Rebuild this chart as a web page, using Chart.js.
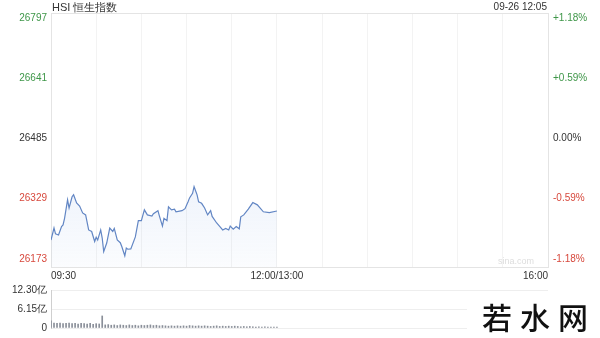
<!DOCTYPE html>
<html lang="zh">
<head>
<meta charset="UTF-8">
<title>HSI 恒生指数</title>
<style>
  body { margin: 0; width: 600px; height: 338px; background: #fff; position: relative; overflow: hidden; font-family: "Liberation Sans", Arial, sans-serif; }
  #main { position: absolute; left: 0; top: 0; }
  #vol { position: absolute; left: 0; top: 280px; }
  .title { position: absolute; left: 52px; top: 0; font-size: 11px; line-height: 14px; color: #333; }
  .stamp { position: absolute; right: 53px; top: 0; font-size: 10px; line-height: 14px; color: #333; }
  .src { position: absolute; left: 498px; top: 256px; font-size: 9px; color: #ddd; }
  .logo { position: absolute; left: 467px; top: 298px; width: 133px; height: 40px; background: #fff;
          font-family: "Noto Sans CJK SC", sans-serif; font-weight: 500; font-size: 30px; line-height: 36px;
          letter-spacing: 8px; padding-left: 15px; box-sizing: border-box; color: #111; white-space: nowrap; }
</style>
</head>
<body>
<canvas id="main" width="600" height="282"></canvas>
<canvas id="vol" width="600" height="58"></canvas>
<div class="title">HSI 恒生指数</div>
<div class="stamp">09-26 12:05</div>
<div class="src">sina.com</div>
<div class="logo">若水网</div>

<script src="https://cdn.jsdelivr.net/npm/chart.js@4.4.0/dist/chart.umd.min.js"></script>
<script>
// minutes since 09:30 (lunch break removed: 150 = 12:00/13:00, 330 = 16:00)
const priceMinutes = [0, 2, 3, 5, 7, 8, 9, 11, 12, 14, 15, 17, 19, 21, 23, 25, 27, 29, 30, 31,
  33, 34, 35, 37, 39, 41, 42, 44, 46, 47, 49, 50, 51, 53, 56, 58, 60, 62, 64, 67,
  68, 71, 72, 74, 75, 77, 78, 80, 82, 83, 87, 89, 91, 92, 94, 95, 97, 98, 100, 102,
  104, 106, 107, 110, 112, 114, 116, 118, 119, 121, 123, 125, 126, 128, 131, 134, 137, 141, 145, 150];
const priceValues = [26222, 26253, 26238, 26235, 26257, 26261, 26278, 26326, 26305, 26334, 26339, 26318, 26310, 26292, 26287, 26248, 26244, 26218, 26229, 26222,
  26248, 26227, 26192, 26214, 26253, 26244, 26252, 26222, 26215, 26205, 26181, 26201, 26198, 26199, 26230, 26272, 26272, 26300, 26287, 26284,
  26290, 26298, 26284, 26258, 26278, 26272, 26308, 26300, 26302, 26295, 26298, 26303, 26321, 26331, 26343, 26360, 26339, 26321, 26317, 26305,
  26287, 26298, 26283, 26266, 26257, 26248, 26252, 26248, 26258, 26250, 26257, 26251, 26282, 26287, 26302, 26319, 26313, 26295, 26293, 26297];

// volume in 亿, one bar every 2 minutes
const volMinutes = [0, 2, 4, 6, 8, 10, 12, 14, 16, 18, 20, 22, 24, 26, 28, 30, 32, 34, 36, 38,
  40, 42, 44, 46, 48, 50, 52, 54, 56, 58, 60, 62, 64, 66, 68, 70, 72, 74, 76, 78,
  80, 82, 84, 86, 88, 90, 92, 94, 96, 98, 100, 102, 104, 106, 108, 110, 112, 114, 116, 118,
  120, 122, 124, 126, 128, 130, 132, 134, 136, 138, 140, 142, 144, 146, 148, 150];
const volValues = [2.3, 1.6, 1.5, 1.6, 1.4, 1.5, 1.6, 1.4, 1.5, 1.3, 1.5, 1.4, 1.3, 1.5, 1.2, 1.4, 1.3, 3.9, 1.0, 1.1,
  0.9, 1.0, 0.8, 1.0, 0.9, 0.8, 1.0, 0.8, 0.9, 0.7, 0.9, 0.8, 0.9, 1.0, 0.8, 0.9, 0.7, 0.8, 0.7, 0.6,
  0.7, 0.6, 0.7, 0.6, 0.7, 0.6, 0.8, 0.7, 0.6, 0.7, 0.6, 0.7, 0.6, 0.5, 0.6, 0.7, 0.5, 0.6, 0.5, 0.6,
  0.5, 0.6, 0.5, 0.4, 0.5, 0.4, 0.5, 0.4, 0.3, 0.4, 0.3, 0.4, 0.3, 0.3, 0.3, 0.3];

const preClose = 26485;
const priceTicks = [26173, 26329, 26485, 26641, 26797];
const pctLabels = ['-1.18%', '-0.59%', '0.00%', '+0.59%', '+1.18%'];
const timeTicks = [0, 30, 60, 90, 120, 150, 180, 210, 240, 270, 300, 330];
const timeLabels = { 0: '09:30', 150: '12:00/13:00', 330: '16:00' };
const volTicks = [0, 6.15, 12.3];
const volLabels = ['0', '6.15亿', '12.30亿'];

Chart.defaults.font.family = '"Liberation Sans", Arial, sans-serif';
Chart.defaults.font.size = 10;
Chart.defaults.animation = false;

const upColor = 'rgb(62,150,72)';
const downColor = 'rgb(215,72,60)';
function tickColor(ctx) {
  const v = ctx.tick.value;
  if (v > preClose) return upColor;
  if (v < preClose) return downColor;
  return '#333';
}

// thin frame round the plot area
const frame = {
  id: 'frame',
  beforeDatasetsDraw(chart) {
    const a = chart.chartArea, c = chart.ctx;
    c.save();
    c.strokeStyle = '#e4e4e4';
    c.lineWidth = 1;
    c.strokeRect(a.left + 0.5, a.top + 0.5, a.right - a.left, a.bottom - a.top);
    c.restore();
  }
};

new Chart(document.getElementById('main'), {
  type: 'line',
  data: {
    datasets: [{
      data: priceMinutes.map((m, i) => ({ x: m, y: priceValues[i] })),
      borderColor: 'rgb(98,134,196)',
      borderWidth: 1.2,
      pointRadius: 0,
      tension: 0,
      fill: 'start',
      backgroundColor: function (context) {
        const { ctx, chartArea } = context.chart;
        if (!chartArea) return 'rgba(120,160,220,0.08)';
        const g = ctx.createLinearGradient(0, chartArea.top + 170, 0, chartArea.bottom);
        g.addColorStop(0, 'rgba(120,160,225,0.12)');
        g.addColorStop(1, 'rgba(120,160,225,0.03)');
        return g;
      }
    }]
  },
  options: {
    responsive: false,
    layout: { padding: { top: 13 } },
    plugins: { legend: { display: false }, tooltip: { enabled: false } },
    scales: {
      x: {
        type: 'linear', min: 0, max: 330,
        afterBuildTicks: axis => { axis.ticks = timeTicks.map(v => ({ value: v })); },
        afterFit: axis => { axis.height = 15; },
        grid: { color: '#f3f3f3', drawTicks: false },
        border: { display: false },
        ticks: { autoSkip: false, maxRotation: 0, align: 'inner', padding: 3, color: '#333',
                 callback: v => timeLabels[v] || '' }
      },
      y: {
        position: 'left', min: 26152, max: 26810,
        afterBuildTicks: axis => { axis.ticks = priceTicks.map(v => ({ value: v })); },
        afterFit: axis => { axis.width = 51; },
        grid: { display: false, drawTicks: false },
        border: { display: false },
        ticks: { padding: 4, color: tickColor, callback: v => String(v) }
      },
      y2: {
        position: 'right', min: 26152, max: 26810,
        afterBuildTicks: axis => { axis.ticks = priceTicks.map(v => ({ value: v })); },
        afterFit: axis => { axis.width = 52; },
        grid: { display: false, drawTicks: false },
        border: { display: false },
        ticks: { padding: 5, color: tickColor, callback: v => pctLabels[priceTicks.indexOf(v)] }
      }
    }
  },
  plugins: [frame]
});

new Chart(document.getElementById('vol'), {
  type: 'bar',
  data: {
    datasets: [{
      data: volMinutes.map((m, i) => ({ x: m, y: volValues[i] })),
      backgroundColor: '#8a8f99',
      barThickness: 1
    }]
  },
  options: {
    responsive: false,
    layout: { padding: { top: 10, bottom: 9, right: 52 } },
    plugins: { legend: { display: false }, tooltip: { enabled: false } },
    scales: {
      x: { type: 'linear', min: 0, max: 330, offset: false, display: false },
      y: {
        min: 0, max: 12.3,
        afterBuildTicks: axis => { axis.ticks = volTicks.map(v => ({ value: v })); },
        afterFit: axis => { axis.width = 51; },
        grid: { color: '#eeeeee', drawTicks: false },
        border: { display: true, color: '#cfcfcf' },
        ticks: { padding: 4, color: '#333', callback: v => volLabels[volTicks.indexOf(v)] }
      }
    }
  }
});
</script>
</body>
</html>
